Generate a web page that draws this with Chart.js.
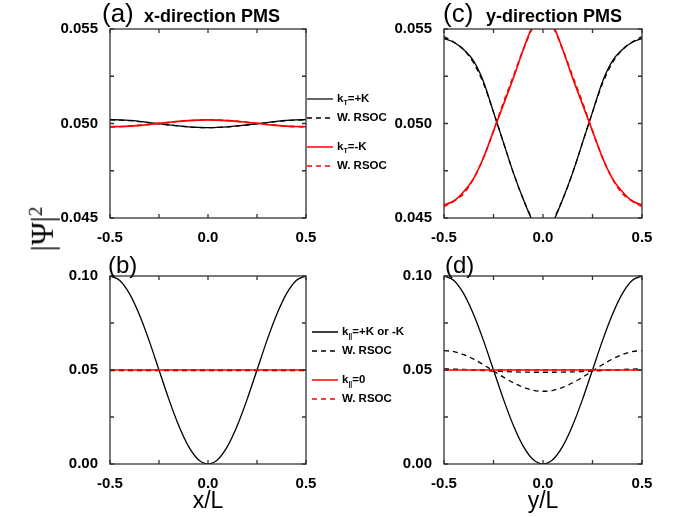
<!DOCTYPE html>
<html>
<head>
<meta charset="utf-8">
<script src="https://cdn.jsdelivr.net/npm/chart.js@4.4.0/dist/chart.umd.min.js"></script>
<style>
  body { margin: 0; background: #fff; }
  #wrap { position: relative; width: 675px; height: 517px; overflow: hidden; font-family: "Liberation Sans", Arial, sans-serif; }
  canvas { position: absolute; }
  .t { position: absolute; white-space: nowrap; color: #000; line-height: 1; }
  .leg { position: absolute; font-weight: bold; font-size: 11.5px; line-height: 1; white-space: nowrap; }
  .leg sub { font-size: 7px; vertical-align: -3px; }
  .ln { position: absolute; }
</style>
</head>
<body>
<div id="wrap">
  <canvas id="pa" width="395" height="250" style="left:0;top:0"></canvas>
  <canvas id="pc" width="280" height="250" style="left:395px;top:0"></canvas>
  <canvas id="pb" width="395" height="267" style="left:0;top:250px"></canvas>
  <canvas id="pd" width="280" height="267" style="left:395px;top:250px"></canvas>

  <div class="t" style="left:102px;top:0px;font-size:26px">(a)</div>
  <div class="t" style="left:144px;top:7px;font-size:18px;font-weight:bold">x-direction PMS</div>
  <div class="t" style="left:443px;top:0px;font-size:26px">(c)</div>
  <div class="t" style="left:486px;top:7px;font-size:18px;font-weight:bold">y-direction PMS</div>
  <div class="t" style="left:108px;top:253px;font-size:24px">(b)</div>
  <div class="t" style="left:445px;top:253px;font-size:24px">(d)</div>

  <div class="t" style="left:42px;top:229px;font-size:31px;font-family:'Liberation Serif',serif;transform:translate(-50%,-50%) rotate(-90deg)">|Ψ|<sup style="font-size:19px">2</sup></div>
  <div class="t" style="left:208px;top:489px;font-size:23px;transform:translateX(-50%)">x/L</div>
  <div class="t" style="left:543px;top:489px;font-size:23px;transform:translateX(-50%)">y/L</div>

  <div id="legTop"></div>
  <div id="legBot"></div>
</div>
<script>
// x/L (or y/L) grid shared by every curve
const xs = [-0.5, -0.45, -0.4, -0.35, -0.3, -0.25, -0.2, -0.15, -0.1, -0.05, 0,
            0.05, 0.1, 0.15, 0.2, 0.25, 0.3, 0.35, 0.4, 0.45, 0.5];

// (a) x-direction PMS
const aPlusK     = [0.05020, 0.05019, 0.05016, 0.05011, 0.05005, 0.04999, 0.04993, 0.04987, 0.04982, 0.04979, 0.04978,
                    0.04979, 0.04982, 0.04987, 0.04993, 0.04999, 0.05005, 0.05011, 0.05016, 0.05019, 0.05020];
const aPlusKR    = [0.05019, 0.05018, 0.05015, 0.05010, 0.05004, 0.04998, 0.04992, 0.04987, 0.04982, 0.04979, 0.04978,
                    0.04979, 0.04982, 0.04987, 0.04992, 0.04998, 0.05004, 0.05010, 0.05015, 0.05018, 0.05019];
const aMinusK    = [0.04983, 0.04984, 0.04986, 0.04990, 0.04995, 0.05001, 0.05006, 0.05011, 0.05015, 0.05018, 0.05019,
                    0.05018, 0.05015, 0.05011, 0.05006, 0.05001, 0.04995, 0.04990, 0.04986, 0.04984, 0.04983];
const aMinusKR   = [0.04982, 0.04983, 0.04986, 0.04990, 0.04995, 0.05000, 0.05006, 0.05011, 0.05015, 0.05018, 0.05020,
                    0.05018, 0.05015, 0.05011, 0.05006, 0.05000, 0.04995, 0.04990, 0.04986, 0.04983, 0.04982];

// (c) y-direction PMS
const cPlusK     = [0.0545, 0.0543, 0.0539, 0.0533, 0.0522, 0.0506, 0.0490, 0.0474, 0.0460, 0.0448, 0.0443,
                    0.0448, 0.0460, 0.0474, 0.0490, 0.0506, 0.0522, 0.0533, 0.0539, 0.0543, 0.0545];
const cPlusKR    = [0.0546, 0.0543, 0.0539, 0.0532, 0.0521, 0.0506, 0.0490, 0.0474, 0.0460, 0.0449, 0.0444,
                    0.0449, 0.0460, 0.0474, 0.0490, 0.0506, 0.0521, 0.0532, 0.0539, 0.0543, 0.0546];
const cMinusK    = [0.0457, 0.0459, 0.0464, 0.0471, 0.0482, 0.0496, 0.0510, 0.0524, 0.0539, 0.0552, 0.0557,
                    0.0552, 0.0539, 0.0524, 0.0510, 0.0496, 0.0482, 0.0471, 0.0464, 0.0459, 0.0457];
const cMinusKR   = [0.0456, 0.0459, 0.0463, 0.0471, 0.0482, 0.0496, 0.0511, 0.0525, 0.0539, 0.0551, 0.0556,
                    0.0551, 0.0539, 0.0525, 0.0511, 0.0496, 0.0482, 0.0471, 0.0463, 0.0459, 0.0456];

// (b) x-direction, k|| = +K or -K and k|| = 0
const bWave      = [0.1000, 0.0976, 0.0905, 0.0794, 0.0655, 0.0500, 0.0345, 0.0206, 0.0095, 0.0024, 0.0000,
                    0.0024, 0.0095, 0.0206, 0.0345, 0.0500, 0.0655, 0.0794, 0.0905, 0.0976, 0.1000];
const bWaveR     = [0.0497, 0.0497, 0.0497, 0.0497, 0.0497, 0.0497, 0.0497, 0.0497, 0.0497, 0.0497, 0.0497,
                    0.0497, 0.0497, 0.0497, 0.0497, 0.0497, 0.0497, 0.0497, 0.0497, 0.0497, 0.0497];
const bZero      = [0.0500, 0.0500, 0.0500, 0.0500, 0.0500, 0.0500, 0.0500, 0.0500, 0.0500, 0.0500, 0.0500,
                    0.0500, 0.0500, 0.0500, 0.0500, 0.0500, 0.0500, 0.0500, 0.0500, 0.0500, 0.0500];
const bZeroR     = [0.0501, 0.0501, 0.0501, 0.0501, 0.0501, 0.0501, 0.0501, 0.0501, 0.0501, 0.0501, 0.0501,
                    0.0501, 0.0501, 0.0501, 0.0501, 0.0501, 0.0501, 0.0501, 0.0501, 0.0501, 0.0501];

// (d) y-direction
const dWave      = [0.1000, 0.0976, 0.0905, 0.0794, 0.0655, 0.0500, 0.0345, 0.0206, 0.0095, 0.0024, 0.0000,
                    0.0024, 0.0095, 0.0206, 0.0345, 0.0500, 0.0655, 0.0794, 0.0905, 0.0976, 0.1000];
const dWaveR1    = [0.0603, 0.0598, 0.0582, 0.0558, 0.0528, 0.0495, 0.0462, 0.0432, 0.0408, 0.0392, 0.0387,
                    0.0392, 0.0408, 0.0432, 0.0462, 0.0495, 0.0528, 0.0558, 0.0582, 0.0598, 0.0603];
const dWaveR2    = [0.0506, 0.0505, 0.0503, 0.0500, 0.0497, 0.0494, 0.0492, 0.0490, 0.0489, 0.0488, 0.0488,
                    0.0488, 0.0489, 0.0490, 0.0492, 0.0494, 0.0497, 0.0500, 0.0503, 0.0505, 0.0506];
const dZero      = [0.0500, 0.0500, 0.0500, 0.0500, 0.0500, 0.0500, 0.0500, 0.0500, 0.0500, 0.0500, 0.0500,
                    0.0500, 0.0500, 0.0500, 0.0500, 0.0500, 0.0500, 0.0500, 0.0500, 0.0500, 0.0500];
const dZeroR     = [0.0501, 0.0501, 0.0501, 0.0501, 0.0501, 0.0501, 0.0501, 0.0501, 0.0501, 0.0501, 0.0501,
                    0.0501, 0.0501, 0.0501, 0.0501, 0.0501, 0.0501, 0.0501, 0.0501, 0.0501, 0.0501];

const xTicks = [-0.5, 0, 0.5];
const yTicksTop = [0.045, 0.050, 0.055];
const yTicksBot = [0.00, 0.05, 0.10];

const BLACK = "#000000";
const RED = "#ff0000";
const DASH = [5, 4];

const pts = function (arr) {
  return xs.map((x, i) => ({ x: x, y: arr[i] }));
};

const line = function (arr, color, dashed, order) {
  return {
    data: pts(arr),
    borderColor: color,
    borderWidth: color === RED ? 1.6 : 1.3,
    borderDash: dashed ? DASH : [],
    pointRadius: 0,
    cubicInterpolationMode: "monotone",
    order: order,
  };
};

// box round the plot and inward ticks on all four sides
const frameTicks = {
  id: "frameTicks",
  afterDatasetsDraw(chart) {
    const { ctx, chartArea: a, scales } = chart;
    const len = 4;
    ctx.save();
    ctx.strokeStyle = "#333";
    ctx.lineWidth = 1.3;
    ctx.beginPath();
    scales.x.ticks.forEach((t) => {
      const px = scales.x.getPixelForValue(t.value);
      ctx.moveTo(px, a.bottom); ctx.lineTo(px, a.bottom - len);
      ctx.moveTo(px, a.top); ctx.lineTo(px, a.top + len);
    });
    scales.y.ticks.forEach((t) => {
      const py = scales.y.getPixelForValue(t.value);
      ctx.moveTo(a.left, py); ctx.lineTo(a.left + len, py);
      ctx.moveTo(a.right, py); ctx.lineTo(a.right - len, py);
    });
    ctx.stroke();
    ctx.strokeRect(a.left, a.top, a.right - a.left, a.bottom - a.top);
    ctx.restore();
  },
};

const near = function (v, list) {
  return list.find((m) => Math.abs(m - v) < 1e-7);
};

const tickFont = { family: "'Liberation Sans', Arial, sans-serif", size: 15, weight: "bold" };

const makePanel = function (id, datasets, p) {
  new Chart(document.getElementById(id), {
    type: "line",
    data: { datasets: datasets },
    plugins: [frameTicks],
    options: {
      responsive: false,
      animation: false,
      events: [],
      layout: { padding: { left: 0, top: p.top, right: p.right, bottom: 0 } },
      plugins: { legend: { display: false }, tooltip: { enabled: false } },
      scales: {
        x: {
          type: "linear",
          min: -0.5,
          max: 0.5,
          grid: { display: false },
          border: { display: false },
          afterFit: (s) => { s.height = p.xh; },
          ticks: {
            stepSize: 0.25,
            autoSkip: false,
            maxRotation: 0,
            padding: 3,
            color: BLACK,
            font: tickFont,
            callback: (v) => { const m = near(v, xTicks); return m === undefined ? "" : m.toFixed(1); },
          },
        },
        y: {
          min: p.yMin,
          max: p.yMax,
          grid: { display: false },
          border: { display: false },
          afterFit: (s) => { s.width = p.yw; },
          ticks: {
            stepSize: p.yStep,
            autoSkip: false,
            padding: 4,
            color: BLACK,
            font: tickFont,
            callback: (v) => { const m = near(v, p.yLabels); return m === undefined ? "" : m.toFixed(p.dec); },
          },
        },
      },
    },
  });
};

const init = function () {
  makePanel("pa", [
    line(aPlusK, BLACK, false, 1),
    line(aPlusKR, BLACK, true, 2),
    line(aMinusK, RED, false, 0),
    line(aMinusKR, RED, true, 0),
  ], { top: 29, right: 89, xh: 32, yw: 110, yMin: 0.045, yMax: 0.055, yStep: 0.0025, yLabels: yTicksTop, dec: 3 });

  makePanel("pc", [
    line(cPlusK, BLACK, false, 1),
    line(cPlusKR, BLACK, true, 2),
    line(cMinusK, RED, false, 0),
    line(cMinusKR, RED, true, 0),
  ], { top: 29, right: 33, xh: 32, yw: 49, yMin: 0.045, yMax: 0.055, yStep: 0.0025, yLabels: yTicksTop, dec: 3 });

  makePanel("pb", [
    line(bWave, BLACK, false, 2),
    line(bWaveR, BLACK, true, 3),
    line(bZero, RED, false, 0),
    line(bZeroR, RED, true, 1),
  ], { top: 26, right: 89, xh: 53, yw: 110, yMin: 0, yMax: 0.1, yStep: 0.025, yLabels: yTicksBot, dec: 2 });

  makePanel("pd", [
    line(dWave, BLACK, false, 2),
    line(dWaveR1, BLACK, true, 3),
    line(dWaveR2, BLACK, true, 3),
    line(dZero, RED, false, 0),
    line(dZeroR, RED, true, 1),
  ], { top: 26, right: 33, xh: 53, yw: 49, yMin: 0, yMax: 0.1, yStep: 0.025, yLabels: yTicksBot, dec: 2 });

  // legends between the columns
  const legend = function (holder, rows, x0, x1, tx) {
    holder.innerHTML = rows.map((r) =>
      '<svg class="ln" style="left:' + x0 + 'px;top:' + (r.y - 2) + 'px" width="' + (x1 - x0) + '" height="4">' +
      '<line x1="0" y1="2" x2="' + (x1 - x0) + '" y2="2" stroke="' + r.c + '" stroke-width="1.5"' +
      (r.d ? ' stroke-dasharray="5 4"' : '') + '/></svg>' +
      '<div class="leg" style="left:' + tx + 'px;top:' + (r.y - 6) + 'px">' + r.t + '</div>'
    ).join("");
  };
  legend(document.getElementById("legTop"), [
    { y: 99, c: "#333", d: false, t: "k<sub>T</sub>=+K" },
    { y: 118, c: BLACK, d: true, t: "W. RSOC" },
    { y: 147, c: RED, d: false, t: "k<sub>T</sub>=-K" },
    { y: 166, c: RED, d: true, t: "W. RSOC" },
  ], 307, 333, 337);
  legend(document.getElementById("legBot"), [
    { y: 332, c: BLACK, d: false, t: "k<sub>||</sub>=+K or -K" },
    { y: 351, c: BLACK, d: true, t: "W. RSOC" },
    { y: 380, c: RED, d: false, t: "k<sub>||</sub>=0" },
    { y: 399, c: RED, d: true, t: "W. RSOC" },
  ], 312, 338, 342);
};

document.addEventListener("DOMContentLoaded", init);
</script>
</body>
</html>
